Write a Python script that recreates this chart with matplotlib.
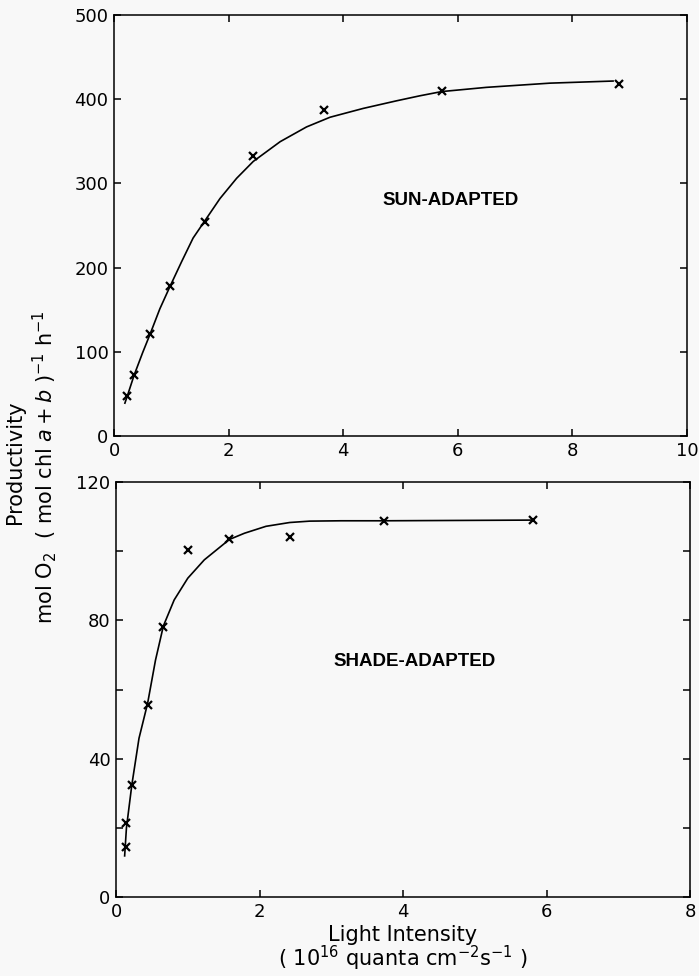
import numpy as np
import matplotlib
matplotlib.use("Agg")
import matplotlib.pyplot as plt

# sun-adapted measurements
sun_x = [0.23, 0.35, 0.63, 0.98, 1.58, 2.42, 3.67, 5.72, 8.82]
sun_y = [47, 72, 121, 178, 254, 332, 387, 410, 418]
# fitted curve
sun_cx = [0.19, 0.23, 0.35, 0.5, 0.63, 0.8, 0.98, 1.18, 1.38, 1.59, 1.85, 2.14, 2.43,
          2.9, 3.36, 3.77, 4.35, 4.93, 5.34, 5.72, 6.5, 7.61, 8.71]
sun_cy = [39, 47, 72, 99, 121, 151, 178, 207, 235, 256, 282, 306, 326,
          349.5, 367, 378.5, 389, 398, 404, 409, 414, 419, 421.5]

# shade-adapted measurements
shade_x = [0.135, 0.145, 0.22, 0.45, 0.65, 1.0, 1.58, 2.42, 3.74, 5.81]
shade_y = [14.5, 21.5, 32.4, 55.6, 78.2, 100.3, 103.6, 104.2, 108.8, 109]
shade_cx = [0.12, 0.145, 0.22, 0.32, 0.44, 0.55, 0.66, 0.81, 1.0, 1.23, 1.58, 1.79,
            2.09, 2.42, 2.7, 3.14, 3.74, 5.81]
shade_cy = [11.9, 20, 32.4, 45.9, 56, 68.5, 78.4, 85.9, 92.2, 97.5, 103.4, 105.2,
            107.2, 108.3, 108.7, 108.8, 108.8, 109]

bg = "#f8f8f8"
fig = plt.figure(figsize=(6.99, 9.76), dpi=100, facecolor=bg)
plt.rcParams["font.family"] = "DejaVu Sans"

ax1 = fig.add_axes([0.1631, 0.5533, 0.8197, 0.4314], facecolor=bg)
ax2 = fig.add_axes([0.166, 0.0809, 0.8212, 0.4252], facecolor=bg)

for ax in (ax1, ax2):
    for s in ax.spines.values():
        s.set_linewidth(1.1)
    ax.tick_params(direction="in", length=5, width=1.1, top=True, right=True,
                   labelsize=13, pad=4)

ax1.plot(sun_cx, sun_cy, color="black", lw=1.2)
ax1.plot(sun_x, sun_y, "x", color="black", ms=6, mew=1.6)
ax1.set_xlim(0, 10)
ax1.set_ylim(0, 500)
ax1.set_xticks(range(0, 11, 2))
ax1.set_yticks(range(0, 501, 100))
ax1.text(4.68, 280, "SUN-ADAPTED", fontsize=13.5, fontweight="bold",
         family="Liberation Sans", ha="left", va="center")

ax2.plot(shade_cx, shade_cy, color="black", lw=1.2)
ax2.plot(shade_x, shade_y, "x", color="black", ms=6, mew=1.6)
ax2.set_xlim(0, 8)
ax2.set_ylim(0, 120)
ax2.set_xticks(range(0, 9, 2))
ax2.set_yticks(range(0, 121, 20))
ax2.set_yticklabels([str(v) if v % 40 == 0 else "" for v in range(0, 121, 20)])
ax2.text(3.03, 68, "SHADE-ADAPTED", fontsize=13.5, fontweight="bold",
         family="Liberation Sans", ha="left", va="center")

fig.text(0.5766, 1 - 935 / 976, "Light Intensity", fontsize=15, ha="center", va="center")
fig.text(0.5766, 1 - 958 / 976, r"( 10$^{16}$ quanta cm$^{-2}$s$^{-1}$ )", fontsize=15,
         ha="center", va="center")

fig.text(15 / 699, 1 - 462 / 976, "Productivity", fontsize=15, rotation=90,
         ha="center", va="center")
fig.text(45 / 699, 1 - 467 / 976, r"mol O$_2$  ( mol chl $a+b$ )$^{-1}$ h$^{-1}$", fontsize=15,
         rotation=90, ha="center", va="center")

fig.savefig("out.png", dpi=100, facecolor=bg)
